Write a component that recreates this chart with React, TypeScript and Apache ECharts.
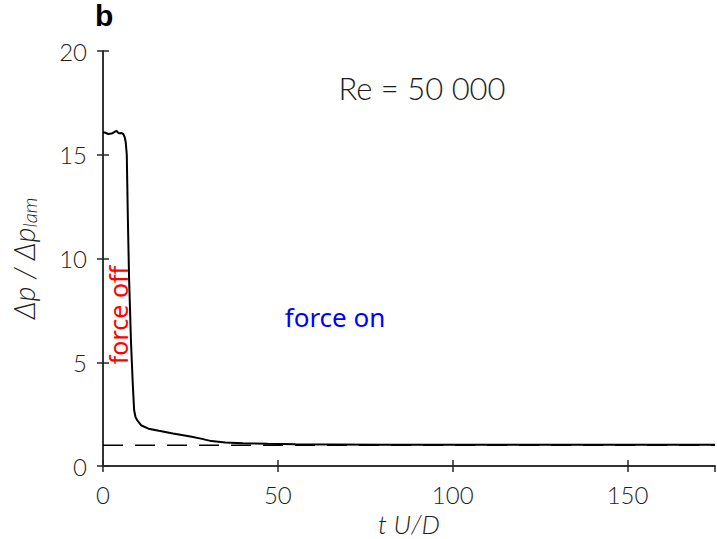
import React, { useEffect, useRef } from "react";
import * as echarts from "echarts";

const tValues = [0, 0.5, 1.5, 2.5, 3.3, 3.9, 4.5, 5.2, 5.8, 6.2, 6.5, 6.8, 7.1, 7.45, 8, 8.5, 8.9, 9.3, 9.8, 11, 13, 16, 20, 25, 28, 31, 35, 40, 47, 55, 65, 80, 100, 130, 175];
const pValues = [16.07, 16.07, 16.0, 16.02, 16.1, 16.15, 16.03, 16.05, 16.0, 15.85, 15.6, 15.0, 12.0, 9.1, 6.0, 4.0, 2.7, 2.35, 2.2, 1.95, 1.8, 1.7, 1.57, 1.42, 1.32, 1.2, 1.13, 1.1, 1.07, 1.05, 1.04, 1.03, 1.02, 1.02, 1.02];
const laminarT = [0, 175];
const laminarP = [1, 1];
const xTicks = [0, 50, 100, 150];
const yTicks = [0, 5, 10, 15, 20];

const AXIS = "#1e1e1e";
const FONT = "Lato";

export default function App() {
  const ref = useRef<HTMLDivElement>(null);
  useEffect(() => {
    if (!ref.current) return;
    const chart = echarts.init(ref.current, undefined, { renderer: "svg" });
    const tickStyle = { show: true, inside: true, length: 6, lineStyle: { color: "#262626", width: 1.5 } };
    chart.setOption({
      animation: false,
      backgroundColor: "#fff",
      grid: { left: 103, right: 2, top: 51, bottom: 73, outerBoundsMode: "none", containLabel: false },
      xAxis: [
        {
          type: "value", min: 0, max: 175, interval: 50,
          axisLine: { show: true, lineStyle: { color: "#262626", width: 1.5 } },
          axisTick: tickStyle,
          splitLine: { show: false },
          axisLabel: {
            color: AXIS, fontFamily: FONT, fontWeight: 300, fontSize: 24, margin: 16,
            formatter: (v: number) => (xTicks.includes(v) ? String(v) : ""),
            showMaxLabel: false,
          },
          name: "t U/D", nameLocation: "middle", nameGap: 44,
          nameTextStyle: { color: AXIS, fontFamily: FONT, fontWeight: 300, fontSize: 26, fontStyle: "italic" },
        },
        {
          type: "value", position: "top", min: 0, max: 175, interval: 50,
          axisLine: { show: true, lineStyle: { color: "#262626", width: 1.5 } },
          axisTick: tickStyle, axisLabel: { show: false }, splitLine: { show: false },
        },
      ],
      yAxis: [
        {
          type: "value", min: 0, max: 20, interval: 5,
          axisLine: { show: true, lineStyle: { color: "#262626", width: 1.5 } },
          axisTick: tickStyle,
          splitLine: { show: false },
          axisLabel: {
            color: AXIS, fontFamily: FONT, fontWeight: 300, fontSize: 24, margin: 16,
            formatter: (v: number) => (yTicks.includes(v) ? String(v) : ""),
          },
          name: "{m|Δp / Δp}{s|lam}", nameLocation: "middle", nameGap: 64, nameRotate: 90,
          nameTextStyle: {
            color: AXIS,
            rich: {
              m: { fontFamily: FONT, fontWeight: 300, fontSize: 29, fontStyle: "italic", color: AXIS },
              s: { fontFamily: FONT, fontWeight: 300, fontSize: 20, fontStyle: "italic", color: AXIS, padding: [12, 0, 0, 0] },
            },
          },
        },
        {
          type: "value", position: "right", min: 0, max: 20, interval: 5,
          axisLine: { show: true, lineStyle: { color: "#262626", width: 1.5 } },
          axisTick: tickStyle, axisLabel: { show: false }, splitLine: { show: false },
        },
      ],
      series: [
        {
          type: "line", xAxisIndex: 0, yAxisIndex: 0, showSymbol: false, symbol: "none",
          data: laminarT.map((t, i) => [t, laminarP[i]]),
          lineStyle: { color: "#000", width: 1.5, type: [20, 12] },
        },
        {
          type: "line", xAxisIndex: 0, yAxisIndex: 0, showSymbol: false, symbol: "none",
          data: tValues.map((t, i) => [t, pValues[i]]),
          lineStyle: { color: "#000", width: 2 },
        },
      ],
      graphic: [
        {
          type: "text", left: 95, top: 0,
          style: { text: "b", fontFamily: "Liberation Sans", fontWeight: "bold", fontSize: 30, fill: "#000" },
        },
        {
          type: "text", x: 422, y: 88,
          style: { text: "Re = 50 000", fontFamily: FONT, fontWeight: 300, fontSize: 31, fill: AXIS, align: "center", verticalAlign: "middle" },
        },
        {
          type: "text", x: 335, y: 317,
          style: { text: "force on", fontFamily: "Noto Sans", fontSize: 26, fill: "#0000ff", align: "center", verticalAlign: "middle" },
        },
        {
          type: "text", x: 118, y: 315, rotation: Math.PI / 2,
          style: { text: "force off", fontFamily: "Noto Sans", fontSize: 25, fill: "#ff0000", align: "center", verticalAlign: "middle" },
        },
      ],
    });
    return () => chart.dispose();
  }, []);
  return <div ref={ref} style={{ width: 717, height: 539, position: "absolute", left: 0, top: 0 }} />;
}
